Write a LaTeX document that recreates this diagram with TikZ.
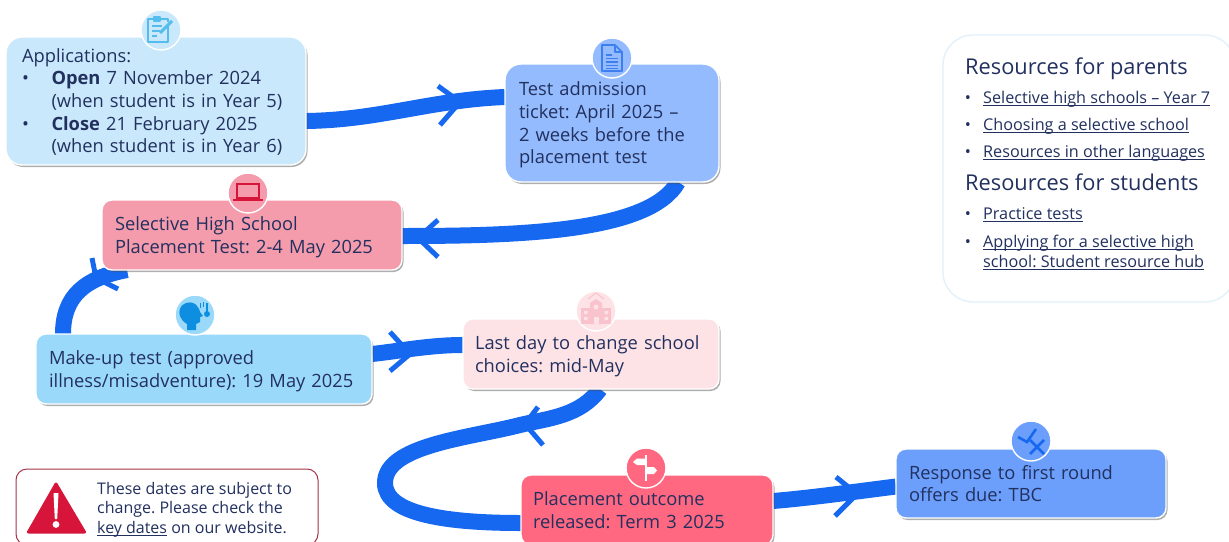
\documentclass[tikz,border=0pt]{standalone}
\usepackage{fontspec}
\setmainfont{Open Sans}
\frenchspacing
\usetikzlibrary{shadows,backgrounds}
\definecolor{ink}{HTML}{22305F}
\definecolor{flowblue}{HTML}{1668F0}
\definecolor{cApp}{HTML}{C9E8FB}
\definecolor{cTest}{HTML}{93BBFD}
\definecolor{cSel}{HTML}{F49BAC}
\definecolor{cMake}{HTML}{9BD9FB}
\definecolor{cLast}{HTML}{FDE3E6}
\definecolor{cOut}{HTML}{FF6880}
\definecolor{cResp}{HTML}{6B9FFB}
\definecolor{warnred}{HTML}{D7153A}
\definecolor{panel}{HTML}{E3F1F9}
\definecolor{iApp}{HTML}{55BCEE}
\definecolor{iTest}{HTML}{3D7EF0}
\definecolor{iMake}{HTML}{0E8EE0}
\definecolor{iLast}{HTML}{F9C3CD}
\newcommand{\bodyfont}{\fontsize{18.3}{22.6}\selectfont}
\newcommand{\smallfont}{\fontsize{16}{19.6}\selectfont}
\newcommand{\listfont}{\fontsize{16.2}{20}\selectfont}
\newcommand{\headfont}{\fontsize{21.8}{24}\selectfont}
\newcommand{\bul}{\makebox[29.5pt][l]{\textbullet}}
\newcommand{\lowerone}{\rule{0pt}{16pt}}
\newcommand{\lowertwo}{\rule{0pt}{18pt}}
\newsavebox{\ulbox}
\newcommand{\uline}[1]{\sbox{\ulbox}{#1}\rlap{\rule[-2.6pt]{\wd\ulbox}{0.9pt}}\usebox{\ulbox}}
\tikzset{
  x=1pt,y=-1pt,
  card/.style={draw=white,line width=1.4pt,rounded corners=10pt,inner sep=0pt,outer sep=0pt,align=left,text=ink,
    font=\bodyfont,drop shadow={shadow xshift=1.5pt,shadow yshift=-2pt,opacity=.45,fill=black!70}},
  bigcard/.style={card,rounded corners=16pt},
  badge/.style={circle,draw=white,line width=1.4pt,minimum size=40pt,inner sep=0pt},
  flow/.style={draw=flowblue,line width=16pt},
  chev/.style={draw=flowblue,line width=5pt,line join=miter},
  plain/.style={anchor=base west,inner sep=0pt,text=ink,align=left},
  linkitem/.style={plain,font=\listfont},
  headitem/.style={plain,font=\headfont},
  dotitem/.style={anchor=base,inner sep=0pt,text=ink,font=\listfont},
}
\begin{document}
\begin{tikzpicture}
\useasboundingbox (0,0) rectangle (1229,541);
% cards
\node[bigcard,fill=cApp,minimum width=300pt,minimum height=128pt,text width=268pt] (app) at (156,101)
 {\lowerone Applications:\\\bul\textbf{Open} 7 November 2024\\\hspace*{29.5pt}(when student is in Year 5)\\\bul\textbf{Close} 21 February 2025\\\hspace*{29.5pt}(when student is in Year 6)};
\node[bigcard,fill=cTest,minimum width=214pt,minimum height=118pt,text width=186pt] (test) at (612,123)
 {\lowertwo Test admission\\ticket: April 2025 --\\2 weeks before the\\placement test};
\node[card,fill=cSel,minimum width=300pt,minimum height=70pt,text width=274pt] (sel) at (252,235)
 {\lowertwo Selective High School\\Placement Test: 2-4 May 2025};
\node[card,fill=cMake,minimum width=336pt,minimum height=70pt,text width=310pt] (make) at (204,369)
 {\lowertwo Make-up test (approved\\illness/misadventure): 19 May 2025};
\node[card,fill=cLast,minimum width=256pt,minimum height=70pt,text width=232pt] (last) at (591,354)
 {\lowertwo Last day to change school\\choices: mid-May};
\node[card,fill=cOut,minimum width=252pt,minimum height=70pt,text width=228pt] (out) at (647,510)
 {Placement outcome\\released: Term 3 2025};
\node[card,fill=cResp,minimum width=270pt,minimum height=69pt,text width=244pt] (resp) at (1031,483.5)
 {Response to first round\\offers due: TBC};
% badges
\node[badge,fill=cApp] (bApp) at (161,30) {};
\node[badge,fill=cTest] (bTest) at (612,58) {};
\node[badge,fill=cSel] (bSel) at (248,193) {};
\node[badge,fill=cMake] (bMake) at (195,315) {};
\node[badge,fill=cLast] (bLast) at (596,311) {};
\node[badge,fill=cOut] (bOut) at (646,468) {};
\node[badge,fill=cResp] (bResp) at (1031,441) {};
% badge icons
\begin{scope}[shift={(bApp.center)},line width=1.5pt,line join=round]
  \draw[draw=iApp] (7,-4) -- (7,12) -- (-13,12) -- (-13,-11) -- (-7,-11);
  \draw[draw=iApp] (-1,-11) -- (7,-11) -- (7,-8);
  \draw[draw=iApp,fill=iApp] (-7,-13) rectangle (-1,-9);
  \draw[draw=iApp] (-9,-4) -- (1,-4) (-9,1) -- (-1,1) (-9,6) -- (-4,6);
  \draw[draw=iApp,line width=3pt] (-1,3) -- (11,-9);
\end{scope}
\begin{scope}[shift={(bTest.center)},line width=1.7pt,line join=round]
  \draw[draw=iTest,fill=cTest] (-10,-13) -- (3,-13) -- (10,-6) -- (10,13) -- (-10,13) -- cycle;
  \draw[draw=iTest] (3,-13) -- (3,-6) -- (10,-6);
  \draw[draw=iTest,line width=1.1pt] (-6,-3) -- (0,-3) (-6,0.5) -- (6,0.5) (-6,4) -- (6,4) (-6,7.5) -- (6,7.5) (-6,10.5) -- (6,10.5);
\end{scope}
\begin{scope}[shift={(bSel.center)},line width=1.5pt]
  \draw[draw=warnred] (-11,-9) rectangle (11,5);
  \draw[draw=warnred,line width=2.2pt] (-15,7) -- (15,7);
\end{scope}
\begin{scope}[shift={(bMake.center)}]
  \fill[iMake] (-8,15) -- (-8,9) .. controls (-15,5) and (-17,-2) .. (-15,-6)
    .. controls (-13,-13) and (-2,-15) .. (2,-9) .. controls (4,-6) and (5,-5) .. (5,-3)
    -- (8,1) -- (5,2) -- (5,7) -- (1,9) -- (1,15) -- cycle;
  \draw[draw=iMake,line width=1.1pt] (12,-12) -- (12,-2);
  \fill[iMake] (12,-1) circle (3pt);
  \draw[draw=iMake,line width=.8pt] (5,-12) -- (5,-7) (8,-13) -- (8,-8);
\end{scope}
\begin{scope}[shift={(bLast.center)}]
  \fill[iLast] (-15,-3) rectangle (15,13);
  \fill[iLast] (-6,-8) -- (0,-12) -- (6,-8) -- (6,13) -- (-6,13) -- cycle;
  \draw[draw=iLast,line width=1pt] (-8,-12) -- (0,-18) -- (8,-12);
  \fill[cLast] (-2.5,6) rectangle (2.5,13);
  \fill[cLast] (-12,0) rectangle (-8.5,3) (-12,6) rectangle (-8.5,9) (8.5,0) rectangle (12,3) (8.5,6) rectangle (12,9);
  \fill[cLast] (0,-4) circle (2.5pt);
\end{scope}
\begin{scope}[shift={(bOut.center)}]
  \fill[white] (-1.2,-13) rectangle (1.2,13);
  \fill[white] (-13,-6) -- (-9,-9.5) -- (0,-9.5) -- (0,-3) -- (-9,-3) -- cycle;
  \fill[white] (0,-1) -- (8,-1) -- (11,2.5) -- (8,6) -- (0,6) -- cycle;
\end{scope}
\begin{scope}[shift={(bResp.center)},draw=flowblue,line width=2.6pt]
  \draw (-13,-4) -- (-4,1) -- (5,-12);
  \draw (-1,-1) -- (13,13) (-1,13) -- (13,-1);
\end{scope}
% warning
\node[draw=warnred!70!black!85,line width=1pt,rounded corners=11pt,minimum width=302pt,minimum height=76pt,inner sep=0pt,fill=white] (warn) at (167,507) {};
\draw[warnred,fill=warnred,line width=3pt,line join=round] (56,484) -- (28.5,532) -- (84.5,532) -- cycle;
\fill[white] (53.5,493) -- (58.5,493) -- (57.2,519) -- (54.8,519) -- cycle;
\fill[white] (56,524.5) circle (3.4pt);
\node[plain,font=\smallfont] (wtxt) at (97,533.5) {These dates are subject to\\change. Please check the\\\uline{key dates} on our website.};
% resources
\node[draw=panel,line width=1.4pt,rounded corners=30pt,minimum width=292pt,minimum height=267pt,inner sep=0pt] (res) at (1089,168.5) {};
\node[headitem] (h1) at (965,74) {Resources for parents};
\node[headitem] (h2) at (965,190) {Resources for students};
\foreach \n/\yy in {d1/103,d2/130,d3/157,d4/219,d5/247}{\node[dotitem] (\n) at (968,\yy) {•};}
\node[linkitem] (l1) at (983,103) {\uline{Selective high schools -- Year 7}};
\node[linkitem] (l2) at (983,130) {\uline{Choosing a selective school}};
\node[linkitem] (l3) at (983,157) {\uline{Resources in other languages}};
\node[linkitem] (l4) at (983,219) {\uline{Practice tests}};
\node[linkitem] (l5) at (983,267) {\uline{Applying for a selective high}\\\uline{school: Student resource hub}};
% connectors
\begin{pgfonlayer}{background}
\fill[white] (0,0) rectangle (1229,541);
\draw[flow] ([yshift=-20pt]app.east) .. controls (380,120) and (430,100) .. ([yshift=26pt]test.west);
\draw[flow] ([xshift=66pt]test.south) .. controls (650,232) and (520,236) .. ([yshift=-1pt]sel.east);
\draw[flow] ([xshift=-125pt]sel.south) .. controls (85,278) and (63,296) .. ([xshift=-141pt]make.north);
\draw[flow] ([yshift=15pt]make.east) .. controls (400,351) and (430,345) .. ([yshift=9pt]last.west);
\draw[flow] ([xshift=9pt]last.south) .. controls (580,416) and (550,418) .. (520,425)
  .. controls (470,438) and (385,445) .. (385,483)
  .. controls (385,515) and (450,523) .. ([yshift=-13pt]out.west);
\draw[flow] ([yshift=9pt]out.east) .. controls (810,498) and (860,491) .. ([yshift=-3pt]resp.west);
\draw[chev] (438,86) -- (460,102) -- (440,125);
\draw[chev] (438,220) -- (418,238) -- (438,257);
\draw[chev] (92,258) -- (96,278) -- (118,289);
\draw[chev] (390,332) -- (410,354) -- (390,371);
\draw[chev] (538,407) -- (525,424) -- (543,445);
\draw[chev] (836,477) -- (857,494) -- (835,516);
\end{pgfonlayer}
\end{tikzpicture}
\end{document}
